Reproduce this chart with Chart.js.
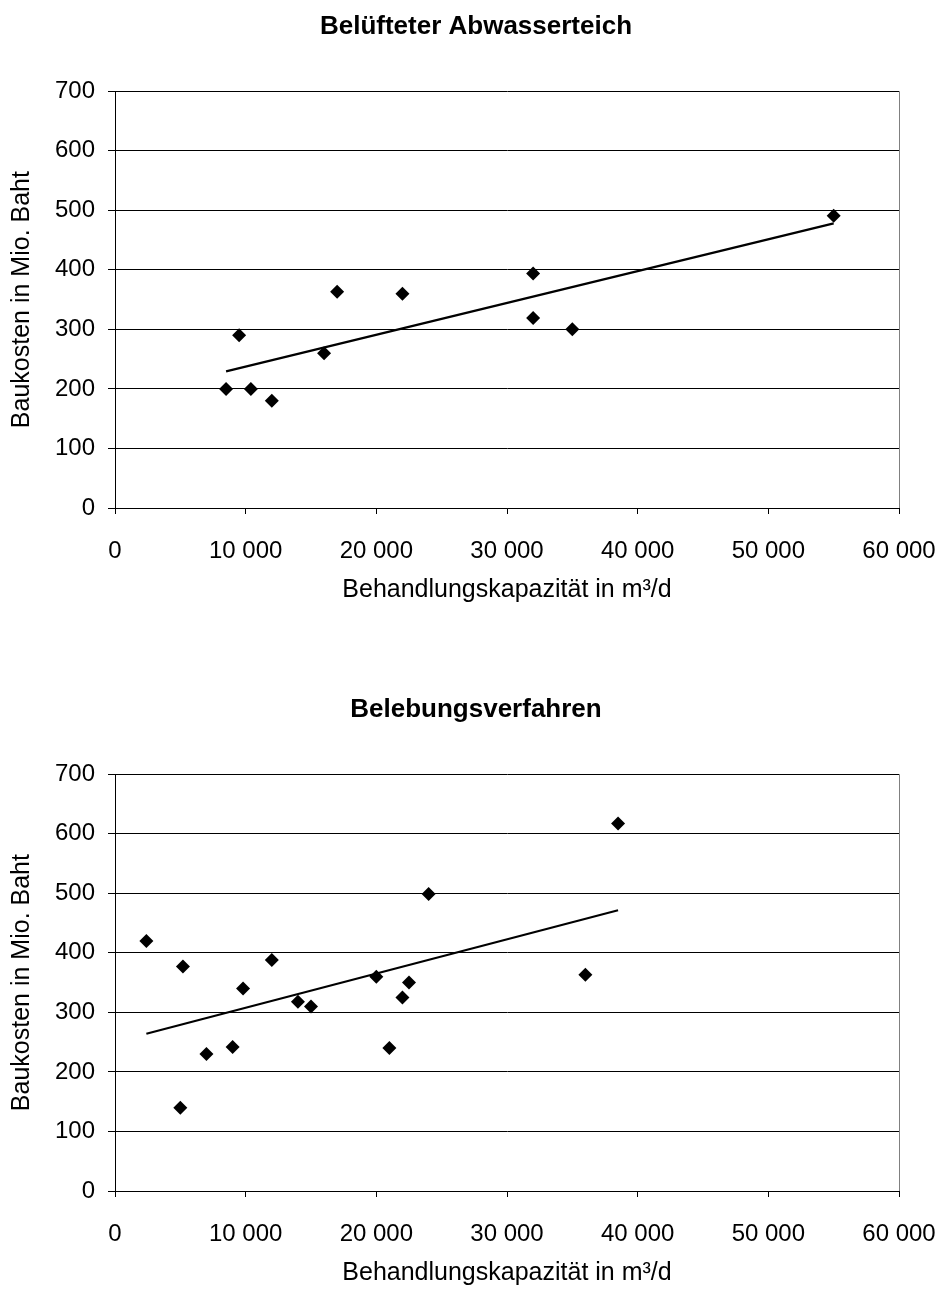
<!DOCTYPE html>
<html>
<head>
<meta charset="utf-8">
<script src="https://cdn.jsdelivr.net/npm/chart.js@4.4.1/dist/chart.umd.min.js"></script>
<style>
  html, body { margin: 0; padding: 0; background: #fff; overflow: hidden; }
  .box { position: absolute; left: 0; width: 945px; height: 640px; }
  #box1 { top: 0; }
  #box2 { top: 683px; }
</style>
</head>
<body>
<div class="box" id="box1"><canvas id="teich"></canvas></div>
<div class="box" id="box2"><canvas id="belebung"></canvas></div>
<script>
// Belüfteter Abwasserteich: capacity (m³/d) and construction cost (Mio. Baht)
const teichKapazitaet = [8500, 9500, 10400, 12000, 16000, 17000, 22000, 32000, 32000, 35000, 55000];
const teichKosten = [200, 290, 200, 180, 260, 363, 360, 394, 319, 300, 491];

// Belebungsverfahren
const belebungKapazitaet = [2400, 5000, 5200, 7000, 9000, 9800, 12000, 14000, 15000, 20000, 21000, 22000, 22500, 24000, 36000, 38500];
const belebungKosten = [420, 140, 377, 230, 242, 340, 388, 318, 310, 360, 240, 325, 350, 499, 363, 617];

const xTicks = [0, 10000, 20000, 30000, 40000, 50000, 60000];
const yTicks = [0, 100, 200, 300, 400, 500, 600, 700];

const FONT = "'Liberation Sans', Arial, sans-serif";
Chart.defaults.color = '#000';
Chart.defaults.font.family = FONT;

// "10 000" style thousands
function fmt(v) {
    return String(v).replace(/\B(?=(\d{3})+(?!\d))/g, ' ');
}

// least squares line over the points, drawn from smallest to largest x
function trend(xs, ys) {
    const n = xs.length;
    const mx = xs.reduce((a, b) => a + b, 0) / n;
    const my = ys.reduce((a, b) => a + b, 0) / n;
    let sxy = 0, sxx = 0;
    for (let i = 0; i < n; i++) {
        sxy += (xs[i] - mx) * (ys[i] - my);
        sxx += (xs[i] - mx) * (xs[i] - mx);
    }
    const k = sxy / sxx;
    const d = my - k * mx;
    const x0 = Math.min(...xs), x1 = Math.max(...xs);
    return [{ x: x0, y: k * x0 + d }, { x: x1, y: k * x1 + d }];
}

// right edge of the plot frame
const frameRight = {
    id: 'frameRight',
    beforeDatasetsDraw(chart) {
        const a = chart.chartArea, ctx = chart.ctx;
        ctx.save();
        ctx.strokeStyle = '#808080';
        ctx.lineWidth = 1;
        ctx.beginPath();
        ctx.moveTo(Math.round(a.right) + 0.5, a.top);
        ctx.lineTo(Math.round(a.right) + 0.5, a.bottom);
        ctx.stroke();
        ctx.restore();
    }
};

function makeChart(id, title, xs, ys) {
    const pts = xs.map((x, i) => ({ x: x, y: ys[i] }));
    return new Chart(document.getElementById(id), {
        type: 'scatter',
        data: {
            datasets: [{
                data: pts,
                order: 0,
                pointStyle: 'rectRot',
                pointRadius: 7,
                pointHoverRadius: 7,
                backgroundColor: '#000',
                borderColor: '#000',
                borderWidth: 0
            }, {
                type: 'line',
                data: trend(xs, ys),
                order: 1,
                borderColor: '#000',
                borderWidth: 2.2,
                pointRadius: 0,
                fill: false
            }]
        },
        options: {
            responsive: true,
            maintainAspectRatio: false,
            animation: false,
            events: [],
            layout: { padding: { left: 7, right: 0, top: 0, bottom: 0 } },
            plugins: {
                legend: { display: false },
                tooltip: { enabled: false },
                title: {
                    display: true,
                    text: title,
                    font: { size: 26, weight: 'bold', family: FONT },
                    padding: { top: 11, bottom: 49 }
                }
            },
            scales: {
                x: {
                    type: 'linear',
                    min: 0,
                    max: 60000,
                    afterBuildTicks: (s) => { s.ticks = xTicks.map(v => ({ value: v })); },
                    afterFit: (s) => {
                        s.height = 132;
                        s.paddingLeft = 0;
                        s.paddingRight = 46;
                    },
                    grid: { drawOnChartArea: false, tickLength: 6, color: '#000' },
                    border: { color: '#000', width: 1 },
                    ticks: { padding: 23, maxRotation: 0, font: { size: 24 }, callback: (v) => fmt(v) },
                    title: {
                        display: true,
                        text: 'Behandlungskapazität in m³/d',
                        font: { size: 25 },
                        padding: { top: 0, bottom: 35 }
                    }
                },
                y: {
                    min: 0,
                    max: 700,
                    afterBuildTicks: (s) => { s.ticks = yTicks.map(v => ({ value: v })); },
                    afterFit: (s) => { s.width = 108; },
                    grid: { color: '#000', tickLength: 7 },
                    border: { color: '#000', width: 1 },
                    ticks: { padding: 13, font: { size: 24 } },
                    title: {
                        display: true,
                        text: 'Baukosten in Mio. Baht',
                        font: { size: 25 },
                        padding: { top: 0, bottom: 0 }
                    }
                }
            }
        },
        plugins: [frameRight]
    });
}

makeChart('teich', 'Belüfteter Abwasserteich', teichKapazitaet, teichKosten);
makeChart('belebung', 'Belebungsverfahren', belebungKapazitaet, belebungKosten);
</script>
</body>
</html>
